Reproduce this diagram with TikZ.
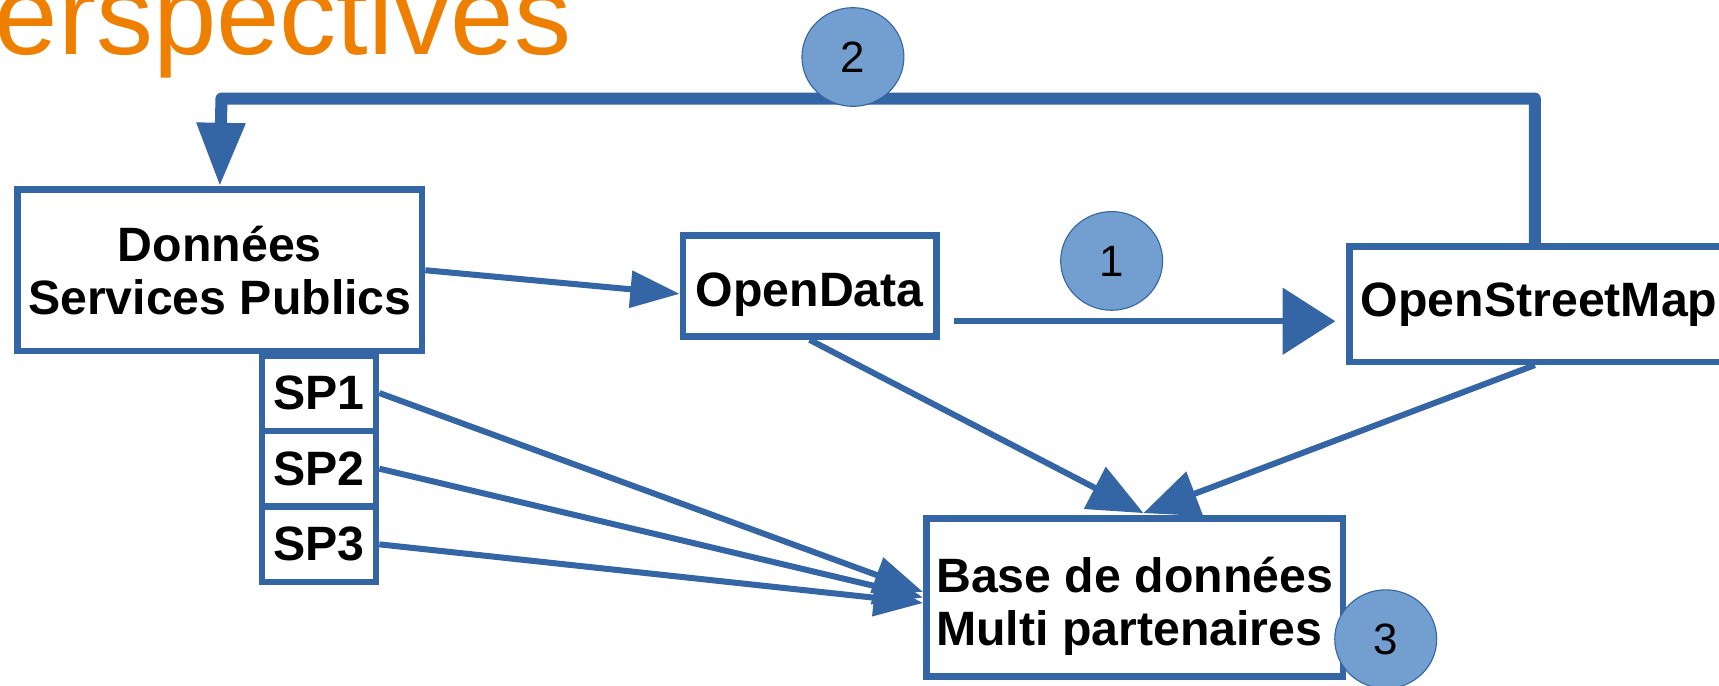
\documentclass[tikz,border=0pt]{standalone}
\usepackage{fontspec}
\setmainfont{Liberation Sans}
\usetikzlibrary{arrows.meta,shapes.geometric}

\definecolor{lineblue}{HTML}{3465A4}
\definecolor{dotblue}{HTML}{729FCF}
\definecolor{titleorange}{HTML}{EE7F00}

\tikzset{
  box/.style={draw=lineblue, line width=6pt, fill=white, inner sep=0pt,
    font=\fontsize{44}{48}\selectfont\bfseries, align=center},
  link/.style={draw=lineblue, line width=5.5pt, -{Triangle[length=45pt,width=33pt]}},
  biglink/.style={draw=lineblue, line width=5.5pt, -{Triangle[length=50pt,width=42pt]}},
  num/.style={ellipse, draw=lineblue, line width=1pt, fill=dotblue, inner sep=0pt,
    minimum width=93pt, minimum height=90pt, font=\fontsize{40}{42}\selectfont}
}

\begin{document}
\begin{tikzpicture}[x=1pt,y=-1pt]
  \useasboundingbox (0,0) rectangle (1568,625);
  \clip (0,0) rectangle (1568,625);

  \node[anchor=base west, inner sep=0pt, text=titleorange,
    font=\fontsize{104}{110}\selectfont] (title) at (-5,50) {erspectives};

  % boxes
  \node[box, minimum width=369pt, minimum height=147pt] (don) at (200.5,246.5) {Données\\Services Publics};
  \node[box, minimum width=104pt, minimum height=69pt] (sp1) at (291,358.5) {SP1};
  \node[box, minimum width=104pt, minimum height=69pt] (sp2) at (291,427.5) {SP2};
  \node[box, minimum width=104pt, minimum height=69pt] (sp3) at (291,496.5) {SP3};
  \node[box, minimum width=231pt, minimum height=92pt] (opendata) at (738.5,261)
    {\raisebox{-8pt}[\height][\depth]{OpenData}};
  \node[box, minimum width=346pt, minimum height=105pt] (osm) at (1404,277.5) {OpenStreetMap};
  \node[box, minimum width=380pt, minimum height=144pt] (base) at (1035,545)
    {\raisebox{-10pt}[\height][\depth]{\begin{tabular}{@{}l@{}}Base de données\\Multi partenaires\end{tabular}}};

  % arrows
  \coordinate (top) at (202,90);
  \coordinate (odout) at (870,293);
  \coordinate (osmin) at (1218,293);
  \draw[draw=lineblue, line width=11pt, line join=round,
    -{Triangle[length=58pt,width=42pt]}] ([xshift=-4pt]osm.north) |- (top) -- (don.north);
  \draw[link] (don.east) -- ([yshift=-7pt]opendata.west);
  \draw[draw=lineblue, line width=5.5pt, -{Triangle[length=48pt,width=60pt]}] (odout) -- (osmin);
  \draw[biglink] (opendata.south) -- ([xshift=8pt,yshift=2pt]base.north);
  \draw[biglink] ([xshift=-4pt]osm.south) -- ([xshift=8pt,yshift=2pt]base.north);
  \draw[link] (sp1.east) -- ([yshift=5pt]base.west);
  \draw[link] (sp2.east) -- (base.west);
  \draw[link] (sp3.east) -- ([yshift=-5pt]base.west);

  % numbers
  \node[num] (n1) at (1014,238) {1};
  \node[num] (n2) at (778,52) {2};
  \node[num] (n3) at (1264,583) {3};
\end{tikzpicture}
\end{document}
